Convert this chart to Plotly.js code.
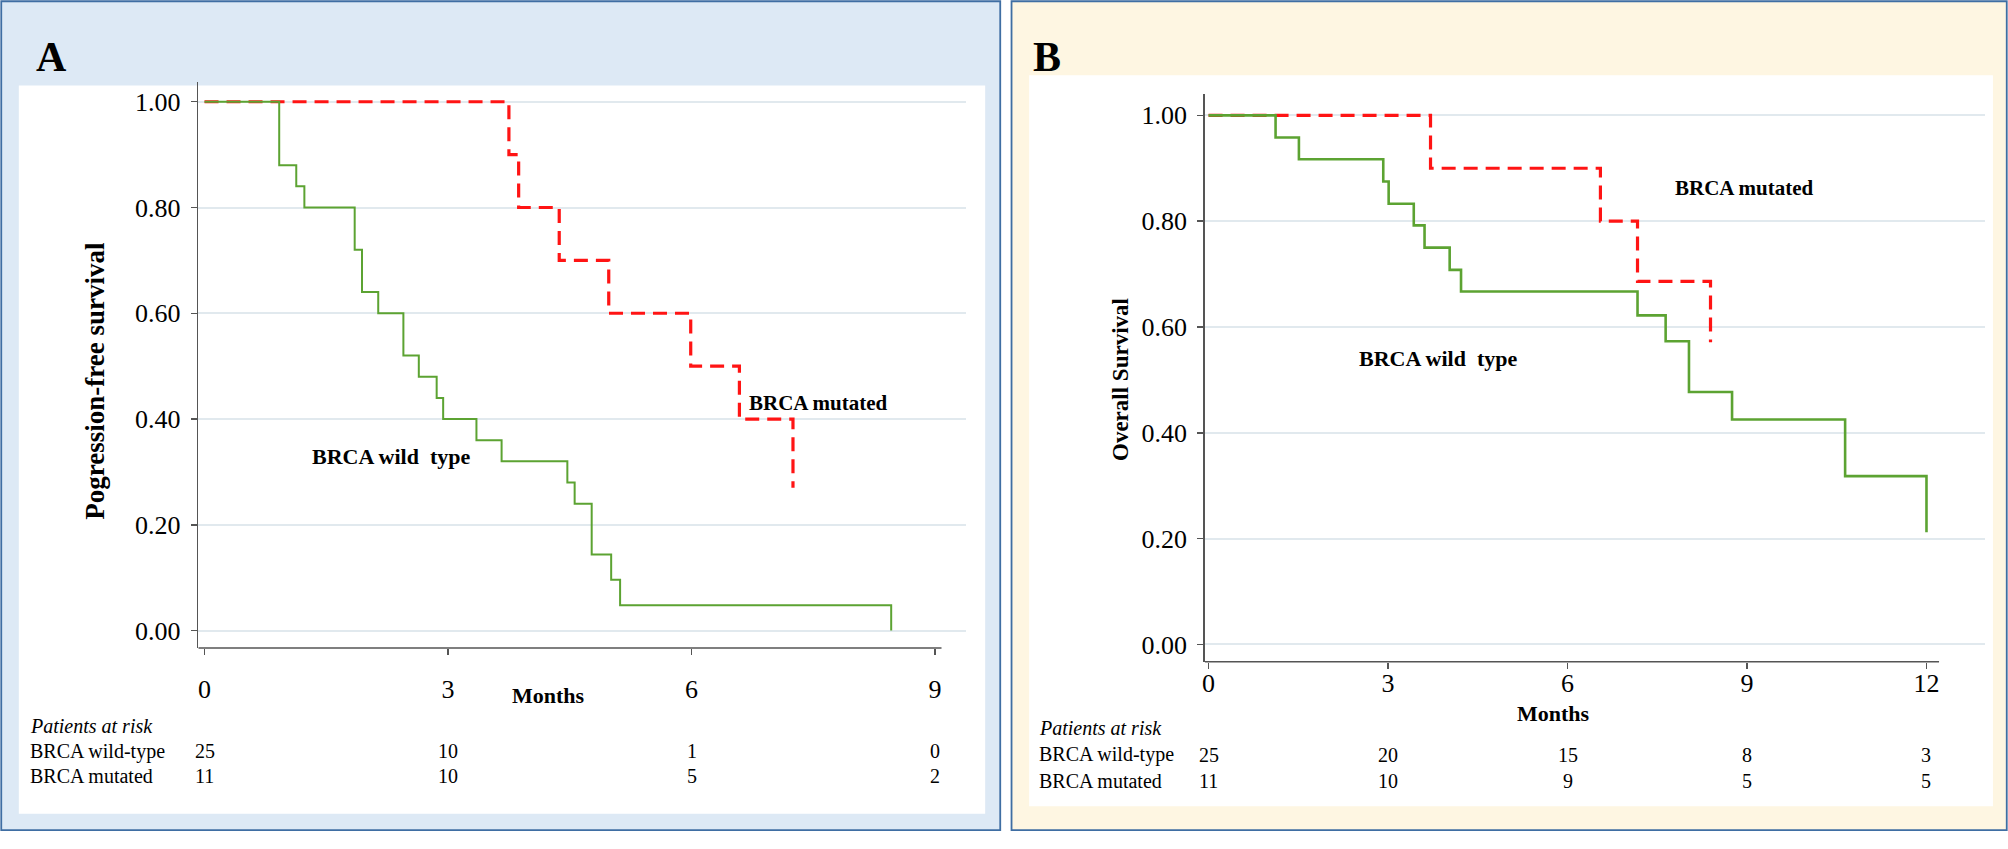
<!DOCTYPE html>
<html>
<head>
<meta charset="utf-8">
<script src="https://cdn.plot.ly/plotly-3.0.1.min.js"></script>
<style>html,body{margin:0;padding:0;background:#fff;}#chart{width:2008px;height:849px;}</style>
</head>
<body>
<div id="chart"></div>
<script>
// ---------- DATA ----------
// Panel A: progression-free survival (months, survival probability)
const pfsWildTime = [0, 0.92, 1.13, 1.23, 1.85, 1.94, 2.14, 2.45, 2.64, 2.86, 2.94, 3.35, 3.66, 4.47, 4.56, 4.77, 5.01, 5.12, 8.46];
const pfsWildSurv = [1.0, 0.88, 0.84, 0.80, 0.72, 0.64, 0.60, 0.52, 0.48, 0.44, 0.40, 0.36, 0.32, 0.28, 0.24, 0.144, 0.096, 0.048, 0.0];
const pfsMutTime = [0, 3.75, 3.87, 4.37, 4.98, 5.99, 6.59, 7.25];
const pfsMutSurv = [1.0, 0.90, 0.80, 0.70, 0.60, 0.50, 0.40, 0.27];
const ticksA = [0, 3, 6, 9];
const riskA_wild = [25, 10, 1, 0];
const riskA_mut = [11, 10, 5, 2];

// Panel B: overall survival
const osWildTime = [0, 1.12, 1.51, 2.92, 3.01, 3.43, 3.61, 4.03, 4.22, 7.17, 7.64, 8.03, 8.75, 10.64, 12.0];
const osWildSurv = [1.0, 0.958, 0.917, 0.875, 0.833, 0.792, 0.75, 0.708, 0.667, 0.622, 0.573, 0.477, 0.425, 0.318, 0.212];
const osMutTime = [0, 3.71, 6.55, 7.17, 8.39];
const osMutSurv = [1.0, 0.90, 0.80, 0.686, 0.571];
const ticksB = [0, 3, 6, 9, 12];
const riskB_wild = [25, 20, 15, 8, 3];
const riskB_mut = [11, 10, 9, 5, 5];

const yTicks = [0, 0.2, 0.4, 0.6, 0.8, 1.0];
const rowLabels = ["BRCA wild-type", "BRCA mutated"];

// ---------- LAYOUT HELPERS (reference grid 1600 x 676) ----------
const W = 1600, H = 676;
const fx = v => v / W;
const fy = v => 1 - v / H;

const SERIF = "Liberation Serif, Times New Roman, serif";
const GREEN = "#5ca332";
const RED = "#ff1414";
const AXC = "#555555";
const GRID = "#e1e9ee";

function rect(x0, y0, x1, y1, fill, line, lw) {
  return {type: "rect", xref: "paper", yref: "paper", x0: fx(x0), x1: fx(x1), y0: fy(y1), y1: fy(y0),
    fillcolor: fill, line: {color: line, width: lw}, layer: "below"};
}

const traces = [
  {x: pfsMutTime, y: pfsMutSurv, xaxis: "x", yaxis: "y", mode: "lines", line: {shape: "hv", color: RED, width: 3.2, dash: "14px,8px"}},
  {x: pfsWildTime, y: pfsWildSurv, xaxis: "x", yaxis: "y", mode: "lines", line: {shape: "hv", color: GREEN, width: 2}},
  {x: osMutTime, y: osMutSurv, xaxis: "x2", yaxis: "y2", mode: "lines", line: {shape: "hv", color: RED, width: 3.2, dash: "14px,8px"}},
  {x: osWildTime, y: osWildSurv, xaxis: "x2", yaxis: "y2", mode: "lines", line: {shape: "hv", color: GREEN, width: 2.6}}
];

// axis geometry
const A = {x0: 158, x1: 770, y0: 65, y1: 516, xr: [-0.077, 9.386], yr: [-0.033, 1.038], xEnd: 9.08};
const B = {x0: 960, x1: 1582, y0: 75, y1: 527, xr: [-0.063, 12.985], yr: [-0.033, 1.040], xEnd: 12.21};

const TICKF = {family: SERIF, size: 26, color: "#000"};

function xax(g, ticks, anchor, standoff) {
  return {domain: [fx(g.x0), fx(g.x1)], range: g.xr, anchor: anchor, tickmode: "array", tickvals: ticks,
    ticktext: ticks.map(String), ticks: "outside", ticklen: 6, tickwidth: 1.5, tickcolor: AXC,
    showline: false, showgrid: false, zeroline: false, ticklabelstandoff: standoff,
    tickfont: TICKF, fixedrange: true};
}
function yax(g, anchor) {
  return {domain: [fy(g.y1), fy(g.y0)], range: g.yr, anchor: anchor, tickmode: "array", tickvals: yTicks,
    ticktext: yTicks.map(v => v.toFixed(2)), ticks: "outside", ticklen: 6, tickwidth: 1.5, tickcolor: AXC,
    showline: true, linecolor: AXC, linewidth: 1.5, showgrid: true, gridcolor: GRID, gridwidth: 2,
    zeroline: false, ticklabelstandoff: 5, tickfont: TICKF, fixedrange: true};
}

const shapes = [
  rect(1, 1, 797, 661, "#dde9f5", "#3f6ea3", 1.8),
  rect(15, 68, 785, 648, "#ffffff", "rgba(0,0,0,0)", 0),
  rect(806, 1, 1599, 661, "#fef6e2", "#3f6ea3", 1.8),
  rect(820, 60, 1588, 642, "#ffffff", "rgba(0,0,0,0)", 0),
  // x-axis lines
  {type: "line", xref: "x", yref: "paper", x0: A.xr[0], x1: A.xEnd, y0: fy(A.y1), y1: fy(A.y1), line: {color: AXC, width: 1.5}},
  {type: "line", xref: "x2", yref: "paper", x0: B.xr[0], x1: B.xEnd, y0: fy(B.y1), y1: fy(B.y1), line: {color: AXC, width: 1.5}}
];

const ann = [];
function txt(text, x, y, opts) {
  ann.push(Object.assign({text: text, x: x, y: y, xref: "paper", yref: "paper", showarrow: false,
    xanchor: "center", yanchor: "middle", font: {family: SERIF, size: 20, color: "#000"}}, opts || {}));
}
const f = s => ({family: SERIF, size: s, color: "#000"});
// panel letters
txt("<b>A</b>", fx(41), fy(45), {font: f(42)});
txt("<b>B</b>", fx(834), fy(45), {font: f(42)});
// axis titles
txt("<b>Pogression-free survival</b>", fx(75), fy(303), {textangle: -90, font: f(27)});
txt("<b>Overall Survival</b>", fx(893), fy(302), {textangle: -90, font: f(23)});
txt("<b>Months</b>", fx(437), fy(554), {font: f(22)});
txt("<b>Months</b>", fx(1238), fy(568), {font: f(22)});
// curve labels
txt("<b>BRCA mutated</b>", 7.56, 0.43, {xref: "x", yref: "y", font: f(21)});
txt("<b>BRCA wild\u00a0 type</b>", 2.30, 0.33, {xref: "x", yref: "y", font: f(22)});
txt("<b>BRCA mutated</b>", 8.96, 0.862, {xref: "x2", yref: "y2", font: f(21)});
txt("<b>BRCA wild\u00a0 type</b>", 3.84, 0.54, {xref: "x2", yref: "y2", font: f(22)});
// at-risk tables
function table(labelX, rowsY, xref, ticks, wild, mut) {
  txt("<i>Patients at risk</i>", fx(labelX), fy(rowsY[0]), {xanchor: "left"});
  txt(rowLabels[0], fx(labelX), fy(rowsY[1]), {xanchor: "left"});
  txt(rowLabels[1], fx(labelX), fy(rowsY[2]), {xanchor: "left"});
  ticks.forEach((t, i) => {
    txt(String(wild[i]), t, fy(rowsY[1]), {xref: xref});
    txt(String(mut[i]), t, fy(rowsY[2]), {xref: xref});
  });
}
table(22, [578, 598, 618], "x", ticksA, riskA_wild, riskA_mut);
table(826, [580, 601, 622], "x2", ticksB, riskB_wild, riskB_mut);

const layout = {
  width: 2008, height: 849, margin: {l: 0, r: 0, t: 0, b: 0},
  paper_bgcolor: "#ffffff", plot_bgcolor: "rgba(0,0,0,0)", showlegend: false,
  xaxis: xax(A, ticksA, "y", 12), yaxis: yax(A, "x"),
  xaxis2: xax(B, ticksB, "y2", -8), yaxis2: yax(B, "x2"),
  shapes: shapes, annotations: ann
};

Plotly.newPlot("chart", traces, layout, {staticPlot: true, displayModeBar: false});
</script>
</body>
</html>
